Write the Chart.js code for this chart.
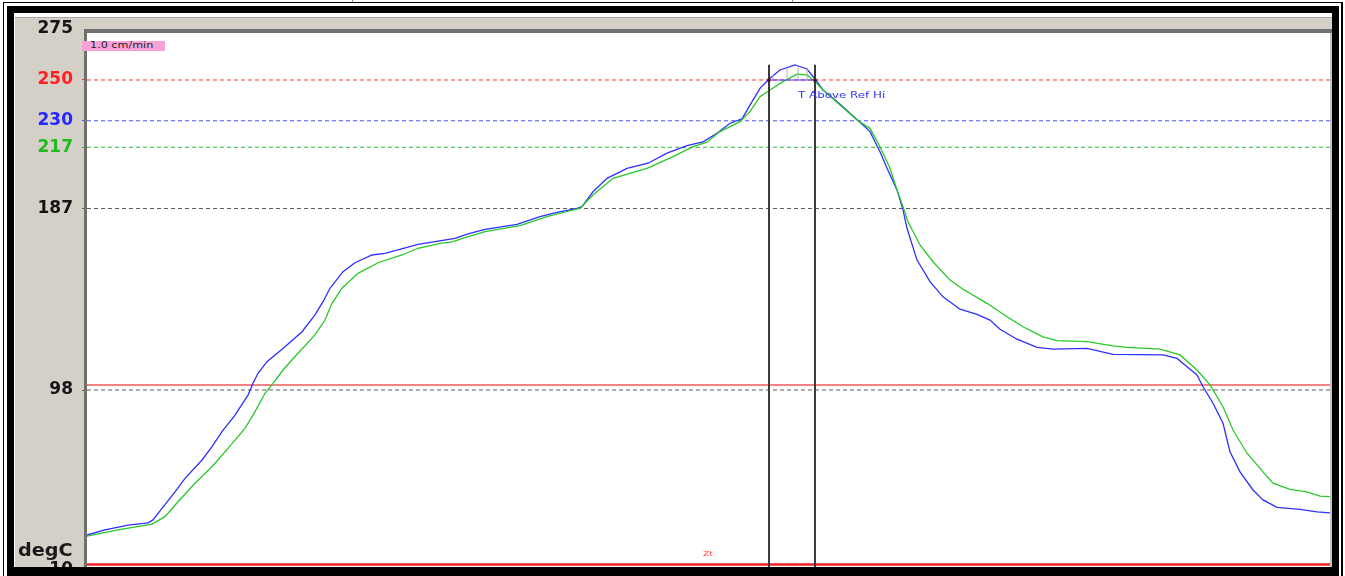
<!DOCTYPE html>
<html><head><meta charset="utf-8">
<script src="https://cdn.jsdelivr.net/npm/chart.js@4.4.0/dist/chart.umd.min.js"></script>
<style>
html,body{margin:0;padding:0;background:#fff;overflow:hidden;}
#wrap{position:relative;width:1345px;height:576px;}
canvas{position:absolute;left:0;top:0;}
.lbl{position:absolute;white-space:nowrap;font-family:"DejaVu Sans",sans-serif;line-height:1;}
.sx{display:inline-block;transform-origin:left center;}
</style></head><body>
<div id="wrap">
<canvas id="c" width="1345" height="576"></canvas>
<div class="lbl" style="left:82px;top:41px;width:83px;height:10px;background:#f8a2d8;display:flex;align-items:center;"><span class="sx" style="margin-left:8px;font-size:8px;color:#222;transform:scaleX(1.4);">1.0 cm/min</span></div>
<div class="lbl" style="left:18px;top:542px;font-weight:bold;font-size:17px;color:#1a1a1a;"><span class="sx" style="transform:scaleX(1.13);">degC</span></div>
<div class="lbl" style="left:703px;top:551px;font-size:7px;color:#ff4040;"><span class="sx" style="transform:scaleX(1.3);">Zt</span></div>
<div class="lbl" style="left:798px;top:90px;font-size:9.5px;color:#3535ff;"><span class="sx" style="transform:scaleX(1.25);">T Above Ref Hi</span></div>
</div>
<script>
// ---- data (time axis in arbitrary units, temperatures in degC) ----
const tickValues = [10, 98, 187, 217, 230, 250, 275];
const refLevels = [250, 230, 217, 187, 98];
const refHi = 250;
const lowAlarm = 100.5;
const baseLine = 12.4;

const timeBlue = [0,18,41,61,66,75,88,98,115,125,135,148,161,166,171,180,198,215,228,236,243,256,268,285,298,331,348,368,381,398,430,453,470,490,495,506,520,540,561,580,600,616,630,643,655,663,673,682,693,708,720,728,736,750,763,776,783,793,800,810,816,820,830,843,856,873,890,903,913,930,950,966,1000,1026,1076,1090,1100,1110,1116,1126,1136,1143,1153,1166,1176,1190,1213,1230,1243];
const tempBlue = [26.9,29.4,31.8,32.9,34.3,40.0,48.1,54.7,63.7,70.2,77.6,85.7,95.5,101.3,106.2,111.9,119.2,126.6,134.8,141.3,147.9,156.0,160.4,164.2,165.0,169.4,170.7,172.3,174.5,176.8,179.2,183.0,185.1,187.1,187.9,195.2,201.8,206.7,209.2,214.1,217.8,219.7,223.9,228.8,230.9,237.7,245.9,250.5,254.9,257.4,255.4,250.5,245.1,239.4,233.7,227.9,224.7,214.8,206.7,196.1,186.3,177.3,161.7,151.1,143.7,137.6,135.1,132.3,127.8,122.9,118.9,118.0,118.4,115.5,115.2,113.5,109.4,105.4,99.6,91.5,81.7,67.7,57.9,49.0,44.1,40.5,39.5,38.3,37.8];

const timeGreen = [0,31,65,78,91,108,125,141,158,168,178,186,196,211,228,238,245,255,271,291,315,331,353,365,381,398,433,460,493,506,526,560,586,606,620,633,653,663,673,683,696,710,720,728,736,753,770,783,793,803,810,816,821,833,846,863,876,900,920,936,956,970,1000,1026,1040,1073,1093,1110,1123,1136,1146,1160,1176,1186,1203,1220,1233,1243];
const tempGreen = [26.4,29.4,32.3,35.9,43.2,52.3,60.4,69.4,79.2,87.4,96.4,101.3,107.8,116.0,125.0,132.3,140.5,147.9,155.2,160.4,164.2,167.5,169.9,170.6,173.2,175.7,178.6,183.0,187.1,193.6,201.8,206.7,212.4,217.3,219.5,224.7,229.6,234.5,241.8,245.1,249.2,252.8,252.5,249.2,245.1,237.7,230.4,226.3,217.3,206.7,196.1,187.9,180.5,169.1,160.9,151.9,147.4,140.5,133.9,129.0,124.1,122.2,121.7,119.6,118.9,118.0,115.2,107.8,100.5,89.8,78.4,67.0,57.9,52.3,49.3,48.1,46.0,45.7];

const markerTimes = [682, 728];
const markerTop = 257.5;
const hatchTimes = [686, 700, 711, 720];
const hatchTops = [252.5, 256.0, 257.4, 255.4];
const timeRange = [0, 1243];

// ---- styles ----
const tickColors = {275:'#141414', 250:'#ff1f1f', 230:'#2626ff', 217:'#1dbb1d', 187:'#141414', 98:'#141414', 10:'#141414'};
const refColors = {250:'#ff3030', 230:'#4a4aff', 217:'#2cc02c', 187:'#5c5c5c', 98:'#5c5c5c'};

const pts = (xs, ys) => xs.map((x, i) => ({x, y: ys[i]}));
const hatchData = [];
hatchTimes.forEach((t, i) => { hatchData.push({x:t, y:refHi}, {x:t, y:hatchTops[i]}, {x:t, y:null}); });
const vlineData = [];
markerTimes.forEach(t => { vlineData.push({x:t, y:markerTop}, {x:t, y:tickValues[0]}, {x:t, y:null}); });

const lineDs = (data, color, width, extra) => Object.assign({
  data, showLine:true, borderColor:color, borderWidth:width, pointRadius:0, tension:0, spanGaps:false, fill:false
}, extra || {});

const refDatasets = refLevels.map(v => lineDs([{x:timeRange[0], y:v}, {x:timeRange[1], y:v}], refColors[v], 1, {borderDash:[4,3]}));

const datasets = [
  Object.assign(lineDs(markerTimes.map(t => ({x:t, y:refHi})), 'rgba(0,0,0,0)', 0), {showLine:false, pointRadius:2.2, pointStyle:'rect', pointBackgroundColor:'#5a0010', pointBorderColor:'#5a0010', pointBorderWidth:0}),
  lineDs(vlineData, '#3a3a3a', 2),
  lineDs([{x:markerTimes[0], y:refHi}, {x:markerTimes[1], y:refHi}], '#4a3aff', 1.2),
  lineDs(hatchData, '#b0b0b0', 1),
  lineDs(pts(timeGreen, tempGreen), '#28c828', 1.3),
  lineDs(pts(timeBlue, tempBlue), '#2f2fff', 1.3),
  lineDs([{x:timeRange[0], y:lowAlarm}, {x:timeRange[1], y:lowAlarm}], '#f25a5a', 1.5),
  lineDs([{x:timeRange[0], y:baseLine}, {x:timeRange[1], y:baseLine}], '#f02020', 2.5)
].concat(refDatasets);

const framePlugin = {
  id:'frame',
  beforeDraw(chart){
    const c = chart.ctx, a = chart.chartArea;
    c.save();
    c.fillStyle = '#fff'; c.fillRect(0,0,1345,576);
    c.fillStyle = '#d4d0c8';
    c.fillRect(15,17,1317,16);
    c.fillRect(15,17,72,552);
    c.fillStyle = '#fff'; c.fillRect(a.left, a.top, a.right-a.left, a.bottom-a.top);
    c.restore();
  },
  afterDraw(chart){
    const c = chart.ctx;
    c.save();
    c.fillStyle = '#a8a8a8'; c.fillRect(15,17,1317,1);
    c.fillStyle = '#707070'; c.fillRect(84,29,3,540); c.fillRect(84,29,1248,4);
    c.fillStyle = '#c4c4c4'; c.fillRect(1330,33,2,536);
    c.fillStyle = '#000';
    c.fillRect(7,6,1332,7);
    c.fillRect(7,6,7,570);
    c.fillRect(1332,6,7,570);
    c.fillRect(7,567,1332,9);
    c.fillRect(3,2,1340,1);
    c.fillRect(3,2,1,574);
    c.fillRect(1341,2,2,574);
    c.fillStyle = '#8a8a8a'; c.fillRect(352,0,1,2); c.fillRect(792,0,1,2);
    c.restore();
  }
};

new Chart(document.getElementById('c').getContext('2d'), {
  type:'scatter',
  data:{datasets},
  options:{
    responsive:false, animation:false, devicePixelRatio:1,
    layout:{padding:{left:0, top:29, right:15, bottom:6.5}},
    plugins:{legend:{display:false}, tooltip:{enabled:false}},
    scales:{
      x:{type:'linear', display:false, min:timeRange[0], max:timeRange[1]},
      y:{type:'linear', min:tickValues[0], max:tickValues[tickValues.length-1],
        afterBuildTicks:s => { s.ticks = tickValues.map(v => ({value:v})); },
        afterFit:s => { s.width = 87; s.paddingTop = 0; s.paddingBottom = 0; },
        ticks:{autoSkip:false, padding:9, color:c => tickColors[c.tick.value] || '#141414',
          font:{family:'DejaVu Sans', size:17, weight:'bold'}, callback:v => String(v)},
        grid:{drawOnChartArea:false, color:c => refColors[c.tick && c.tick.value] || 'rgba(0,0,0,0)', lineWidth:1, tickLength:5},
        border:{display:false}
      }
    }
  },
  plugins:[framePlugin]
});
</script>
</body></html>
